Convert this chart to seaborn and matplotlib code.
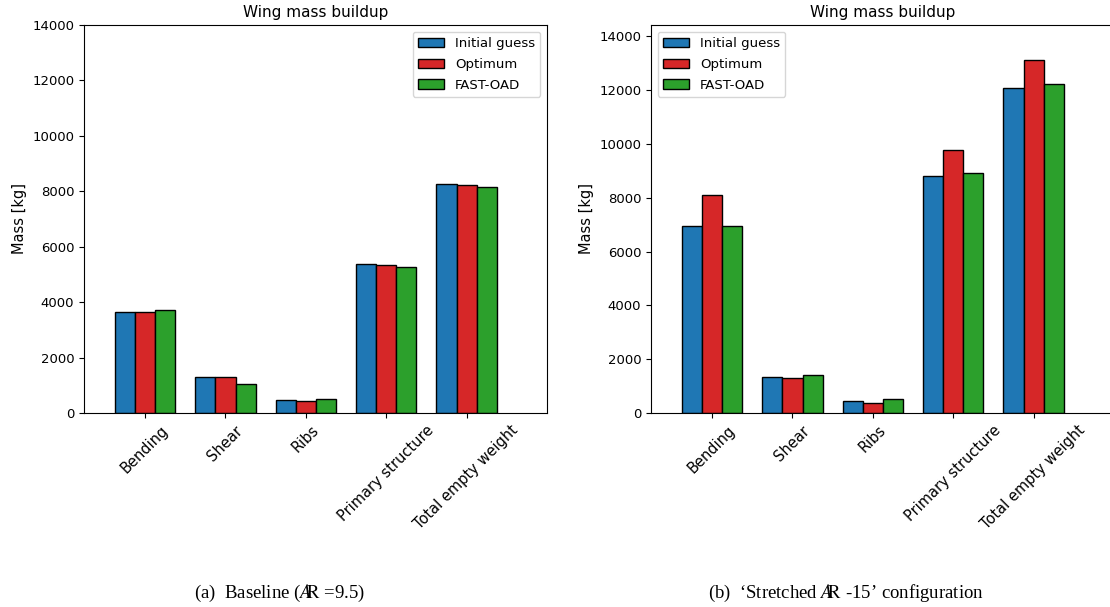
import matplotlib
matplotlib.use("Agg")
import matplotlib.pyplot as plt
from matplotlib.patches import Patch
import pandas as pd
import seaborn as sns

components = ["Bending", "Shear", "Ribs", "Primary structure", "Total empty weight"]
series_names = ["Initial guess", "Optimum", "FAST-OAD"]
colors = ["#1f77b4", "#d62728", "#2ca02c"]

# Baseline configuration (AR = 9.5), masses in kg
baseline_initial = [3655, 1287, 469, 5365, 8252]
baseline_optimum = [3655, 1287, 433, 5329, 8216]
baseline_fastoad = [3728, 1058, 505, 5280, 8155]

# Stretched AR-15 configuration, masses in kg
stretched_initial = [6956, 1356, 464, 8798, 12094]
stretched_optimum = [8092, 1293, 390, 9790, 13108]
stretched_fastoad = [6941, 1430, 528, 8910, 12217]

plt.rcParams["mathtext.fontset"] = "stix"


def to_frame(initial, optimum, fastoad):
    rows = []
    for name, vals in zip(series_names, [initial, optimum, fastoad]):
        for comp, v in zip(components, vals):
            rows.append({"component": comp, "series": name, "mass": v})
    return pd.DataFrame(rows)


fig = plt.figure(figsize=(11.1, 6.07), dpi=100)
ax_a = fig.add_axes([84 / 1110, 1 - 413 / 607, 463 / 1110, 388 / 607])
ax_b = fig.add_axes([651 / 1110, 1 - 413 / 607, 463 / 1110, 388 / 607])

panels = [
    (ax_a, to_frame(baseline_initial, baseline_optimum, baseline_fastoad), "upper right", 14000),
    (ax_b, to_frame(stretched_initial, stretched_optimum, stretched_fastoad), "upper left",
     1.1 * max(stretched_optimum)),
]

for ax, df, loc, ytop in panels:
    sns.barplot(data=df, x="component", y="mass", hue="series",
                hue_order=series_names, order=components, palette=colors,
                width=0.75, edgecolor="black", linewidth=1, saturation=1,
                errorbar=None, ax=ax)
    ax.set_xlim(-0.76, 5.0)
    ax.set_ylim(0, ytop)
    ax.set_title("Wing mass buildup", fontsize=11)
    ax.set_xlabel("")
    ax.set_ylabel("Mass [kg]", fontsize=10.5)
    ax.tick_params(axis="y", labelsize=9.5)
    ax.tick_params(axis="x", labelsize=10.5)
    for lab in ax.get_xticklabels():
        lab.set_rotation(45)
        lab.set_ha("center")
    handles = [Patch(facecolor=c, edgecolor="black", linewidth=1) for c in colors]
    ax.legend(handles, series_names, loc=loc, fontsize=9.5, labelspacing=0.6, title=None)

# Aspect-ratio symbol: slanted A merged into an upright R
ar_symbol = r"$\mathit{A}\!\!\mathrm{R}$"
caption_font = ["Liberation Serif", "DejaVu Serif"]
fig.text(280 / 1110, 1 - 593 / 607, "(a)  Baseline (" + ar_symbol + " =9.5)", ha="center",
         va="center", fontsize=13.5, family=caption_font)
fig.text(846 / 1110, 1 - 593 / 607, "(b)  ‘Stretched " + ar_symbol + " -15’ configuration",
         ha="center", va="center", fontsize=13.5, family=caption_font)

fig.savefig("out.png", dpi=100)
